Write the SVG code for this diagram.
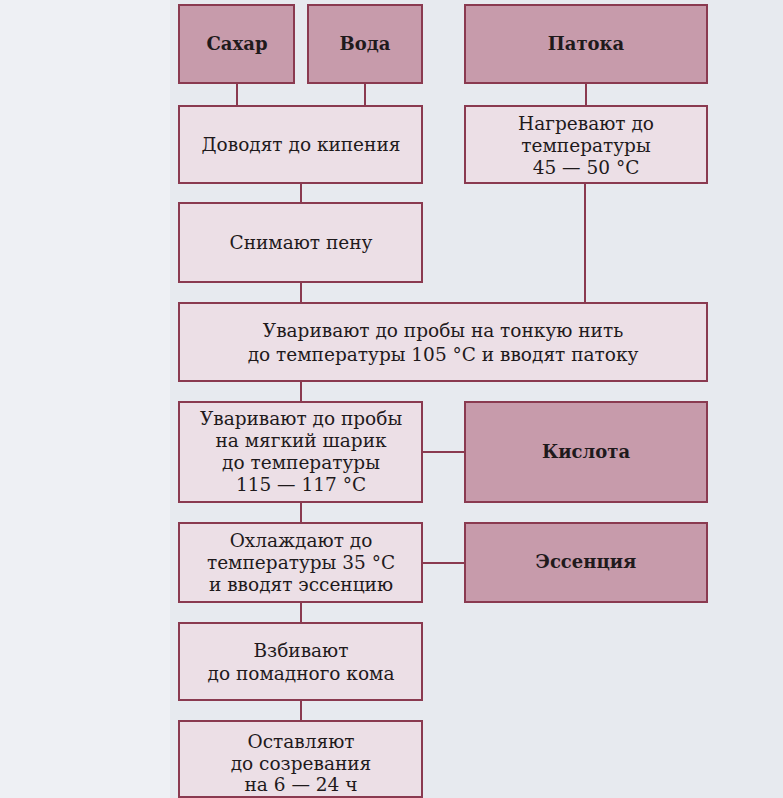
<svg xmlns="http://www.w3.org/2000/svg" width="783" height="798" viewBox="0 0 783 798">
<style>
.bg{fill:#e7eaef}
.dark{fill:#c79bab;stroke:#8a3a50;stroke-width:2}
.light{fill:#ecdfe6;stroke:#8a3a50;stroke-width:2}
.con{stroke:#8a3a50;stroke-width:2;fill:none}
text{font-family:"DejaVu Serif","Liberation Serif",serif;font-size:18.5px;fill:#1f1a1c;text-anchor:middle}
.b{font-weight:bold;font-size:18px}
</style>
<rect class="bg" x="0" y="0" width="783" height="798"/>
<rect x="0" y="0" width="170" height="798" fill="#eef0f4"/>
<g id="connectors">
<line class="con" x1="237" y1="83" x2="237" y2="106"/>
<line class="con" x1="365" y1="83" x2="365" y2="106"/>
<line class="con" x1="586" y1="83" x2="586" y2="106"/>
<line class="con" x1="301" y1="183" x2="301" y2="203"/>
<line class="con" x1="585" y1="183" x2="585" y2="303"/>
<line class="con" x1="301" y1="282" x2="301" y2="303"/>
<line class="con" x1="301" y1="381" x2="301" y2="402"/>
<line class="con" x1="422" y1="452" x2="465" y2="452"/>
<line class="con" x1="301" y1="502" x2="301" y2="523"/>
<line class="con" x1="422" y1="563" x2="465" y2="563"/>
<line class="con" x1="301" y1="602" x2="301" y2="623"/>
<line class="con" x1="301" y1="700" x2="301" y2="721"/>
</g>
<g id="sugar"><rect class="dark" x="179" y="5" width="115" height="78"/><text class="b" x="237" y="50">Сахар</text></g>
<g id="water"><rect class="dark" x="308" y="5" width="114" height="78"/><text class="b" x="365" y="50">Вода</text></g>
<g id="syrup"><rect class="dark" x="465" y="5" width="242" height="78"/><text class="b" x="586" y="50">Патока</text></g>
<g id="boil"><rect class="light" x="179" y="106" width="243" height="77"/><text x="301" y="151">Доводят до кипения</text></g>
<g id="heat"><rect class="light" x="465" y="106" width="242" height="77"/><text x="586" y="130">Нагревают до</text><text x="586" y="152">температуры</text><text x="586" y="174">45 — 50 °C</text></g>
<g id="foam"><rect class="light" x="179" y="203" width="243" height="79"/><text x="301" y="249">Снимают пену</text></g>
<g id="thread"><rect class="light" x="179" y="303" width="528" height="78"/><text x="443" y="337">Уваривают до пробы на тонкую нить</text><text x="443" y="361">до температуры 105 °C и вводят патоку</text></g>
<g id="ball"><rect class="light" x="179" y="402" width="243" height="100"/><text x="301" y="425">Уваривают до пробы</text><text x="301" y="447">на мягкий шарик</text><text x="301" y="469">до температуры</text><text x="301" y="491">115 — 117 °C</text></g>
<g id="acid"><rect class="dark" x="465" y="402" width="242" height="100"/><text class="b" x="586" y="458">Кислота</text></g>
<g id="cool"><rect class="light" x="179" y="523" width="243" height="79"/><text x="301" y="547">Охлаждают до</text><text x="301" y="569">температуры 35 °C</text><text x="301" y="591">и вводят эссенцию</text></g>
<g id="essence"><rect class="dark" x="465" y="523" width="242" height="79"/><text class="b" x="586" y="568">Эссенция</text></g>
<g id="whip"><rect class="light" x="179" y="623" width="243" height="77"/><text x="301" y="657">Взбивают</text><text x="301" y="680">до помадного кома</text></g>
<g id="ripen"><rect class="light" x="179" y="721" width="243" height="76"/><text x="301" y="748">Оставляют</text><text x="301" y="770">до созревания</text><text x="301" y="791">на 6 — 24 ч</text></g>
</svg>
